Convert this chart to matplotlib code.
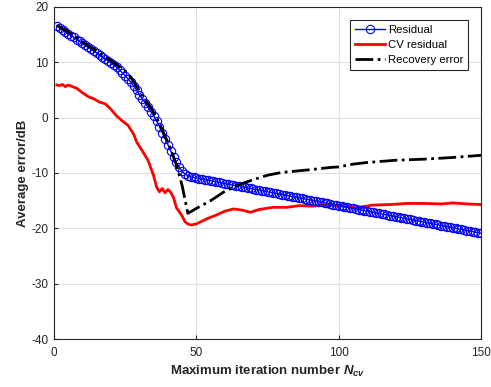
import matplotlib
matplotlib.use('Agg')
import matplotlib.pyplot as plt
import numpy as np

plt.rcParams['font.family'] = ['Liberation Sans', 'DejaVu Sans']
plt.rcParams['mathtext.fontset'] = 'custom'
plt.rcParams['mathtext.it'] = 'Liberation Sans:bold:italic'
plt.rcParams['mathtext.rm'] = 'Liberation Sans:bold'
plt.rcParams['axes.unicode_minus'] = False

# Residual, one value per iteration 1..150
residual_x = np.arange(1, 151)
residual_y = [
    16.6, 16.2, 15.9, 15.5, 15.2, 14.8, 14.5, 14.1, 13.8, 13.4,
    13.1, 12.7, 12.4, 12.0, 11.7, 11.3, 11.0, 10.6, 10.3, 9.9,
    9.5, 9.1, 8.6, 8.1, 7.6, 7.0, 6.4, 5.7, 5.0, 4.1,
    3.4, 2.7, 1.9, 1.1, 0.3, -0.6, -1.6, -2.7, -3.8, -4.9,
    -6.0, -7.1, -8.1, -9.0, -9.7, -10.2, -10.5, -10.7, -10.8, -10.9,
    -11.0, -11.1, -11.2, -11.3, -11.4, -11.5, -11.6, -11.7, -11.8, -11.9,
    -12.0, -12.1, -12.2, -12.3, -12.4, -12.5, -12.6, -12.7, -12.8, -12.9,
    -13.0, -13.1, -13.2, -13.3, -13.4, -13.5, -13.6, -13.7, -13.8, -13.9,
    -14.0, -14.1, -14.2, -14.3, -14.4, -14.5, -14.6, -14.7, -14.8, -14.9,
    -15.0, -15.1, -15.2, -15.3, -15.4, -15.5, -15.6, -15.7, -15.8, -15.9,
    -16.0, -16.1, -16.2, -16.3, -16.4, -16.5, -16.6, -16.7, -16.8, -16.9,
    -17.0, -17.1, -17.2, -17.3, -17.4, -17.5, -17.6, -17.7, -17.8, -17.9,
    -18.0, -18.1, -18.2, -18.3, -18.4, -18.5, -18.6, -18.7, -18.8, -18.9,
    -19.0, -19.1, -19.2, -19.3, -19.4, -19.5, -19.6, -19.7, -19.8, -19.9,
    -20.0, -20.1, -20.2, -20.3, -20.4, -20.5, -20.6, -20.7, -20.8, -20.9,
]

cv_x = [1, 2, 3, 4, 5, 6, 8, 10, 12, 14, 16, 18, 20, 22, 24, 25, 26, 28, 29, 31,
        33, 35, 36, 37, 38, 39, 40, 41, 42, 43, 44, 45, 46, 47, 48, 49, 50, 52, 54, 57,
        60, 63, 66, 69, 72, 77, 82, 86, 91, 95, 98, 103, 106, 112, 118, 124, 130, 136, 140, 145, 150]
cv_y = [5.9, 5.8, 6.0, 5.6, 5.9, 5.7, 5.3, 4.5, 3.8, 3.4, 2.8, 2.5, 1.5, 0.3, -0.6, -1.0, -1.4, -3.0, -4.4, -6.0,
        -7.7, -10.5, -12.5, -13.4, -12.8, -13.6, -13.0, -13.5, -14.5, -16.3, -17.0, -17.8, -18.8, -19.2, -19.4, -19.3, -19.2, -18.7, -18.2, -17.6,
        -16.9, -16.5, -16.7, -17.1, -16.6, -16.2, -16.2, -15.9, -16.0, -15.8, -15.8, -16.1, -16.3, -15.8, -15.7, -15.5, -15.5, -15.6, -15.4, -15.6, -15.7]

rec_x = [1, 5, 10, 15, 20, 24, 26, 28, 31, 34, 37, 40, 43, 45, 47,
         50, 55, 60, 65, 70, 75, 80, 90, 97, 100, 105, 110, 120, 130, 140, 150]
rec_y = [16.7, 15.5, 13.7, 12.0, 10.3, 8.8, 8.0, 6.5, 4.0, 1.8, -1.0, -4.5, -8.5, -12.3, -17.3,
         -16.4, -15.0, -13.3, -12.1, -11.2, -10.4, -9.9, -9.4, -9.0, -8.9, -8.4, -8.1, -7.7, -7.5, -7.2, -6.8]

fig = plt.figure(figsize=(4.91, 3.87), dpi=100)
ax = fig.add_axes([0.110, 0.124, 0.870, 0.858])

ax.plot(residual_x, residual_y, color='#0000FF', linewidth=1, marker='o', markersize=6,
        markerfacecolor='none', markeredgewidth=0.8, label='Residual', zorder=3)
ax.plot(cv_x, cv_y, color='#FF0000', linewidth=2, label='CV residual', zorder=2)
ax.plot(rec_x, rec_y, color='black', linewidth=2, linestyle='-.', label='Recovery error', zorder=4)

ax.set_xlim(0, 150)
ax.set_ylim(-40, 20)
ax.set_xticks([0, 50, 100, 150])
ax.set_yticks([-40, -30, -20, -10, 0, 10, 20])
ax.grid(True, color='#e0e0e0', linewidth=0.8)
ax.set_axisbelow(True)
ax.tick_params(direction='in', labelsize=8.5, colors='#262626', length=3)
ax.tick_params(axis='x', pad=6)
ax.tick_params(axis='y', pad=4)
for s in ax.spines.values():
    s.set_color('#262626')
    s.set_linewidth(0.8)

ax.set_xlabel(r'Maximum iteration number $N_{cv}$', fontsize=9.5, fontweight='bold',
              color='#262626', labelpad=3)
ax.set_ylabel('Average error/dB', fontsize=9.5, fontweight='bold', color='#262626', labelpad=2)

leg = ax.legend(loc='upper right', fontsize=8.2, fancybox=False, framealpha=1,
                edgecolor='#262626', borderpad=0.45, labelspacing=0.45, handlelength=2.6,
                handletextpad=0.25, borderaxespad=0, bbox_to_anchor=(0.970, 0.962))
leg.get_frame().set_linewidth(0.8)

fig.savefig('out.png', dpi=100)
